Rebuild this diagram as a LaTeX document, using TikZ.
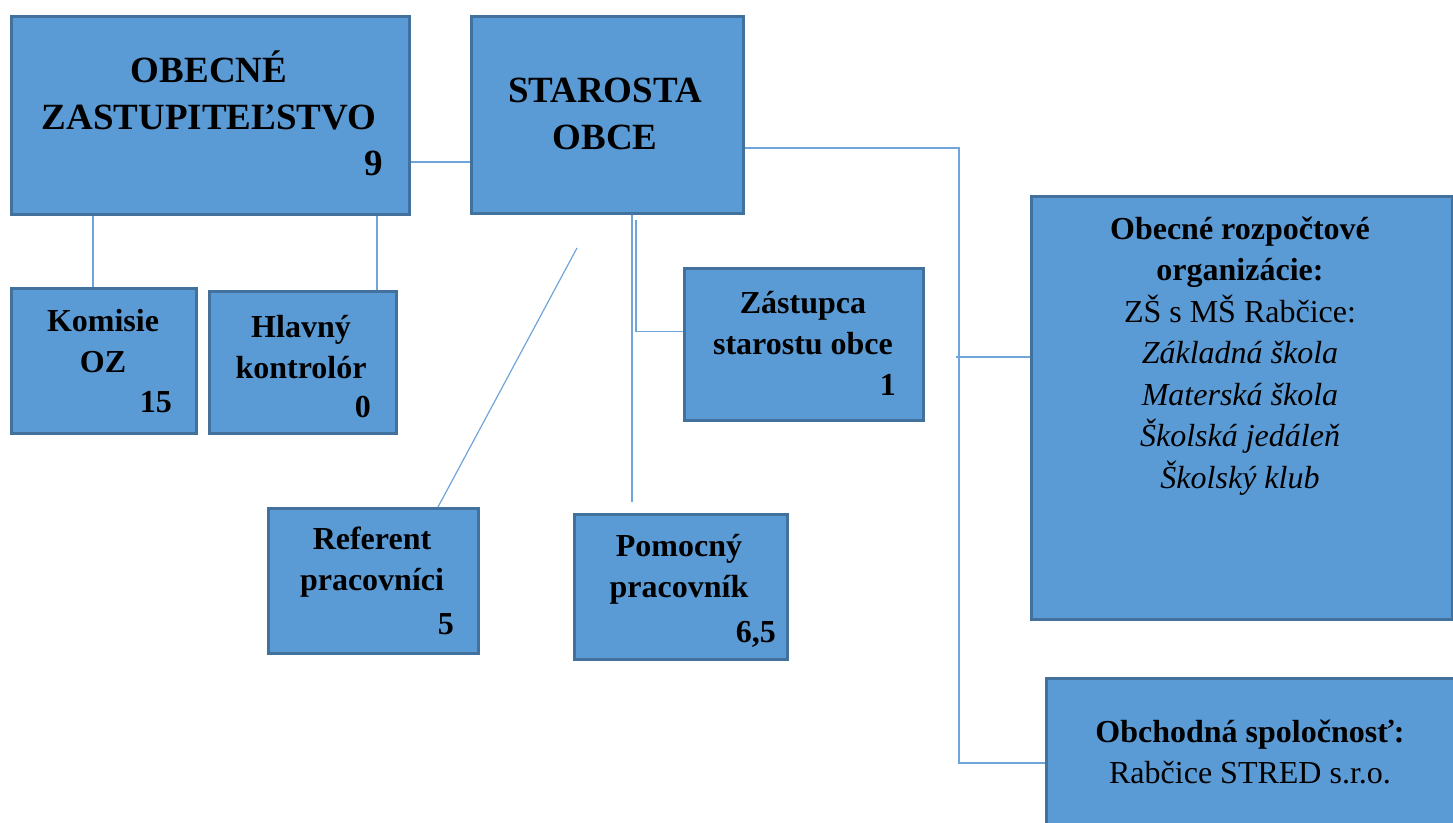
\documentclass[tikz,border=0pt]{standalone}
\usepackage{fontspec}
\setmainfont{Liberation Serif}
\usetikzlibrary{positioning}
\definecolor{boxfill}{HTML}{5B9BD5}
\definecolor{boxedge}{HTML}{41719C}
\definecolor{linkblue}{HTML}{6FA5DA}
\tikzset{
  base/.style = {draw=boxedge, fill=boxfill, line width=2.5pt, rectangle,
                 anchor=north west, inner sep=0pt},
  link/.style = {draw=linkblue, line width=1.2pt},
}

\begin{document}
\begin{tikzpicture}[x=1pt, y=-1pt,
            unit/.style = {base},
            txt/.style  = {font=\bfseries\fontsize{32}{41}\selectfont, align=center, inner sep=0pt},
            bigtxt/.style = {font=\bfseries\fontsize{37}{47}\selectfont, align=center, inner sep=0pt},
            num/.style  = {txt, anchor=base east},
        ]
        \useasboundingbox (0,0) rectangle (1453,822);

        \node[unit, minimum width=398pt, minimum height=198pt] (oz)   at (10,15)   {};
        \node[unit, minimum width=272pt, minimum height=197pt] (st)   at (470,15)  {};
        \node[unit, minimum width=185pt, minimum height=145pt] (kom)  at (10,287)  {};
        \node[unit, minimum width=187pt, minimum height=142pt] (hk)   at (208,290) {};
        \node[unit, minimum width=239pt, minimum height=152pt] (zas)  at (683,267) {};
        \node[unit, minimum width=210pt, minimum height=145pt] (ref)  at (267,507) {};
        \node[unit, minimum width=213pt, minimum height=145pt] (pom)  at (573,513) {};
        \node[unit, minimum width=421pt, minimum height=423pt] (org)  at (1030,195) {};
        \node[unit, minimum width=430pt, minimum height=170pt] (obch) at (1045,677) {};

        \node[bigtxt] (ozt)  at (209,90)  {OBECNÉ\\ZASTUPITEĽSTVO};
        \node[bigtxt, anchor=base east] (ozn) at (383,175) {9};
        \node[bigtxt] (stt)  at (605,114) {STAROSTA\\OBCE};
        \node[txt]    (komt) at (103,341) {Komisie\\OZ};
        \node[num]    (komn) at (172,412) {15};
        \node[txt]    (hkt)  at (301,347) {Hlavný\\kontrolór};
        \node[num]    (hkn)  at (371,417) {0};
        \node[txt]    (zast) at (803,323) {Zástupca\\starostu obce};
        \node[num]    (zasn) at (896,395) {1};
        \node[txt]    (reft) at (372,562) {Referent\\pracovníci};
        \node[num]    (refn) at (454,634) {5};
        \node[txt]    (pomt) at (679,569) {Pomocný\\pracovník};
        \node[num]    (pomn) at (776,642) {6,5};
        \node[txt, font=\fontsize{32}{41.5}\selectfont] (orgt) at (1240,356)
              {\textbf{Obecné rozpočtové}\\\textbf{organizácie:}\\ZŠ s MŠ Rabčice:\\\textit{Základná škola}\\\textit{Materská škola}\\\textit{Školská jedáleň}\\\textit{Školský klub}};
        \node[txt, font=\fontsize{32}{41}\selectfont] (obcht) at (1250,752)
              {\textbf{Obchodná spoločnosť:}\\Rabčice STRED s.r.o.};

        % spojnice
        \draw[link] (oz.east |- 0,162) -- (st.west |- 0,162);
        \draw[link] (93,0 |- oz.south) -- (93,0 |- kom.north);
        \draw[link] (377,0 |- oz.south) -- (377,0 |- hk.north);
        \draw[link] (636,220) |- ([yshift=13pt]zas.west);
        \draw[link] (632,0 |- st.south) -- (632,502);
        \draw[link] (577,248) -- (438,0 |- ref.north);
        \draw[link] (st.east |- 0,148) -| (959,763) -- (obch.west |- 0,763);
        \draw[link] (956,357) -- (org.west |- 0,357);

        \end{tikzpicture}
\end{document}
